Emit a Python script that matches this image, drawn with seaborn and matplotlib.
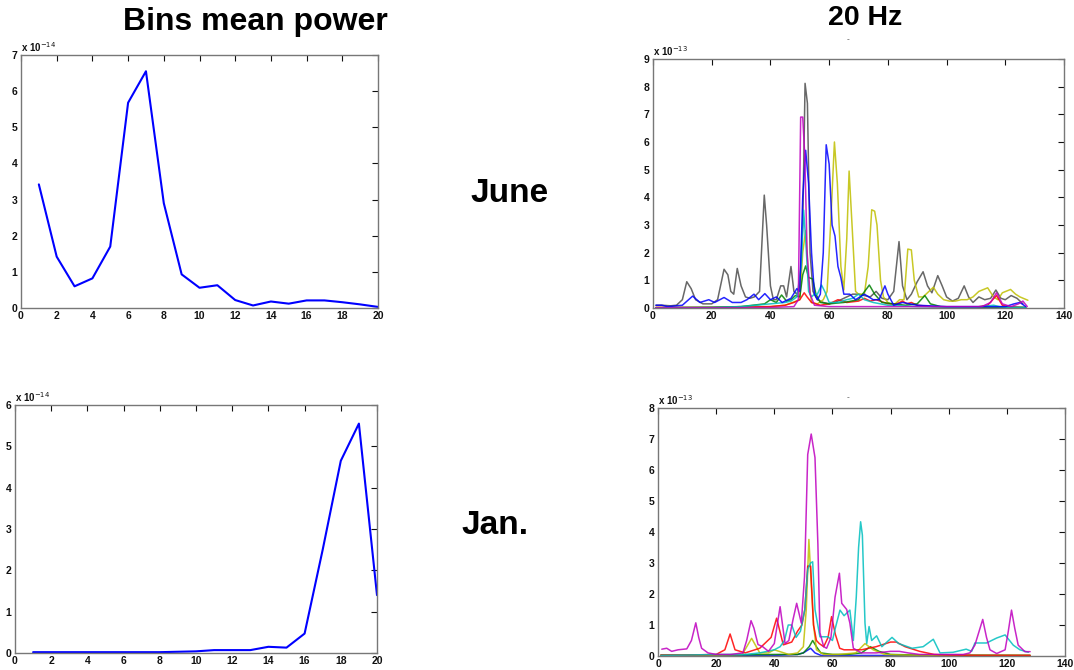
import numpy as np
import pandas as pd
import matplotlib
matplotlib.use("Agg")
import matplotlib.pyplot as plt
import seaborn as sns

# ---------------- data ----------------
# Left column: bin mean power (units of 1e-14)
bins = list(range(1, 21))
june_bins = [3.42, 1.42, 0.60, 0.82, 1.70, 5.68, 6.55, 2.90, 0.93, 0.56,
             0.63, 0.22, 0.07, 0.18, 0.12, 0.21, 0.21, 0.16, 0.10, 0.03]
jan_bins = [0.02, 0.02, 0.02, 0.02, 0.02, 0.02, 0.02, 0.02, 0.03, 0.04,
            0.07, 0.07, 0.07, 0.15, 0.13, 0.47, 2.50, 4.65, 5.55, 1.40]

# Right column: 20 Hz spectra (units of 1e-13), read point by point
june_k_x = [1, 3, 6, 8, 10, 11.5, 13, 14.5, 17, 20, 22, 23, 24.2, 25.5, 26.5, 27.5, 28.7, 30, 31.5, 33,
            34.5, 36.3, 37.9, 38.7, 40, 41, 42, 43.5, 44.5, 45.5, 47, 48, 49, 50, 51, 51.8, 52.6, 53.5,
            54.5, 56, 58, 60, 62, 64, 66, 68, 70, 72, 74, 76, 78, 80, 82, 83.8, 85, 86.5, 88, 90, 92,
            93.5, 95, 97, 98.5, 100, 102, 104, 106, 107.5, 109, 111, 113, 115, 116.8, 118.5, 120, 122,
            124, 126]
june_k_y = [0.1, 0.1, 0.08, 0.1, 0.3, 0.95, 0.7, 0.3, 0.15, 0.15, 0.3, 0.8, 1.4, 1.2, 0.6, 0.5, 1.43, 0.8,
            0.4, 0.35, 0.4, 0.6, 4.08, 3.0, 0.8, 0.3, 0.3, 0.8, 0.8, 0.4, 1.5, 0.6, 0.5, 0.8, 3.0, 8.12,
            7.4, 2.0, 0.6, 0.3, 0.2, 0.15, 0.2, 0.3, 0.4, 0.5, 0.5, 0.45, 0.4, 0.6, 0.35, 0.3, 0.6, 2.4,
            0.8, 0.3, 0.5, 0.95, 1.31, 0.8, 0.55, 1.17, 0.8, 0.4, 0.25, 0.35, 0.8, 0.4, 0.2, 0.4, 0.3,
            0.35, 0.65, 0.35, 0.3, 0.45, 0.35, 0.15]

june_y_x = [1, 10, 20, 30, 40, 45, 50, 51, 52, 53, 54, 56, 58, 59.3, 60.5, 61.8, 62.8, 64, 65, 66, 66.8,
            67.8, 69, 70, 72, 73.3, 74.5, 75.5, 76.3, 77.5, 78.5, 80, 82, 84, 85.5, 86.8, 88, 89, 90.5,
            92, 94, 95.5, 97, 99, 101, 103, 105, 107, 109, 111, 114, 116, 117.5, 119, 121.8, 123.5, 125,
            127.7]
june_y_y = [0.02, 0.02, 0.03, 0.05, 0.05, 0.1, 0.3, 2.0, 2.8, 1.0, 0.2, 0.15, 0.3, 0.6, 3.0, 6.0, 4.5,
            1.5, 0.65, 2.5, 4.95, 3.0, 0.6, 0.5, 0.5, 1.5, 3.55, 3.5, 3.0, 1.0, 0.4, 0.2, 0.1, 0.3, 0.3,
            2.13, 2.1, 1.0, 0.4, 0.4, 0.6, 0.75, 0.5, 0.3, 0.25, 0.25, 0.3, 0.3, 0.4, 0.6, 0.73, 0.4,
            0.3, 0.55, 0.67, 0.5, 0.4, 0.28]

june_b_x = [1, 3, 5, 8, 10, 13.5, 16, 19, 21, 24.2, 27, 30, 32, 34.4, 36, 38.1, 40, 42, 44, 47, 49, 50,
            51, 52, 53, 54, 55, 56, 57, 58, 59, 60, 61, 62, 63, 64, 65, 67, 69, 72, 75, 77, 79, 80, 82,
            85, 90, 100, 110, 120, 123, 125, 127]
june_b_y = [0.1, 0.1, 0.05, 0.08, 0.1, 0.43, 0.2, 0.3, 0.2, 0.38, 0.2, 0.2, 0.3, 0.5, 0.3, 0.52, 0.3,
            0.4, 0.2, 0.35, 0.7, 0.6, 4.0, 5.7, 4.5, 2.0, 0.5, 0.3, 0.5, 2.0, 5.9, 5.2, 3.0, 2.6, 1.5,
            1.1, 0.5, 0.5, 0.3, 0.5, 0.3, 0.3, 0.8, 0.5, 0.1, 0.2, 0.1, 0.05, 0.05, 0.05, 0.15, 0.2,
            0.05]

june_m_x = [1, 20, 40, 48, 49.5, 50.3, 51, 51.7, 52.5, 53.5, 55, 60, 80, 100, 112, 115, 117, 119, 122,
            124.5, 126, 127.5]
june_m_y = [0.01, 0.01, 0.02, 0.05, 0.3, 6.9, 6.9, 5.5, 2.0, 0.5, 0.1, 0.05, 0.05, 0.05, 0.05, 0.2,
            0.55, 0.15, 0.05, 0.15, 0.25, 0.05]

june_g_x = [1, 20, 30, 38, 40, 42, 43.8, 45.5, 47, 48.5, 50, 51, 52, 53, 54.4, 55.5, 57, 60, 65, 70,
            73.7, 75.5, 78, 82, 86, 90, 92.6, 94.5, 98, 105, 115, 127]
june_g_y = [0.01, 0.02, 0.05, 0.15, 0.3, 0.2, 0.47, 0.25, 0.3, 0.45, 0.4, 1.2, 1.52, 1.1, 1.05, 0.5,
            0.2, 0.15, 0.2, 0.3, 0.83, 0.5, 0.2, 0.15, 0.1, 0.15, 0.45, 0.15, 0.05, 0.03, 0.02, 0.02]

june_c_x = [1, 20, 30, 35, 40, 45, 47, 49, 50.5, 51.3, 52, 53, 54, 55, 56, 57.4, 58.5, 60, 63, 66, 68,
            70, 72, 75, 80, 90, 100, 110, 116, 118, 120, 127]
june_c_y = [0.01, 0.02, 0.05, 0.1, 0.15, 0.2, 0.25, 0.4, 1.5, 3.54, 2.5, 0.6, 0.4, 0.5, 0.5, 0.83, 0.6,
            0.2, 0.2, 0.3, 0.35, 0.5, 0.3, 0.2, 0.1, 0.05, 0.03, 0.03, 0.1, 0.05, 0.03, 0.02]

june_r_x = [1, 20, 30, 40, 45, 48, 50, 51.5, 52.5, 54, 57, 60, 63, 66, 70, 72, 74, 76, 80, 83, 85,
            86.5, 88, 90, 95, 100, 110, 114, 117, 119, 121, 127]
june_r_y = [0.02, 0.02, 0.03, 0.05, 0.1, 0.2, 0.3, 0.55, 0.4, 0.2, 0.1, 0.15, 0.3, 0.2, 0.25, 0.35,
            0.25, 0.3, 0.15, 0.15, 0.25, 0.15, 0.2, 0.1, 0.05, 0.03, 0.03, 0.1, 0.45, 0.1, 0.05, 0.02]

jan_m_x = [1.3, 3, 4.7, 6.9, 9.9, 11.5, 13, 14, 15, 17.2, 20, 25, 29.2, 30.5, 32, 33, 34.4, 36, 38, 40,
           42, 43.7, 45, 46.5, 47.7, 49.3, 50.4, 51.5, 52.7, 54, 55, 55.7, 57, 58, 59.5, 60.9, 62.4,
           63.2, 64.9, 66, 67.2, 70, 75, 80, 83, 86, 90, 95, 100, 105, 107.3, 109, 111.7, 113, 114.2,
           116.5, 119.4, 120.5, 121.6, 122.7, 123.9, 126.2, 128]
jan_m_y = [0.22, 0.25, 0.15, 0.2, 0.23, 0.5, 1.07, 0.6, 0.25, 0.1, 0.05, 0.05, 0.1, 0.5, 1.14, 0.9,
           0.37, 0.3, 0.15, 0.4, 1.59, 0.4, 0.5, 1.2, 1.7, 1.06, 2.56, 6.5, 7.16, 6.4, 3.6, 0.75, 0.3,
           0.25, 0.6, 1.9, 2.67, 1.7, 1.5, 1.06, 0.25, 0.1, 0.1, 0.15, 0.15, 0.1, 0.05, 0.05, 0.05,
           0.05, 0.1, 0.35, 1.18, 0.6, 0.2, 0.08, 0.2, 0.8, 1.48, 0.9, 0.35, 0.14, 0.14]

jan_c_x = [1, 10, 20, 30, 35, 40, 42, 43.5, 44.8, 46, 47.5, 49, 50.5, 51.5, 52.5, 53.2, 54, 55.7, 58.5,
           60, 61, 62.6, 64, 66, 67.2, 68.2, 69, 69.7, 70.3, 71.2, 71.8, 72.6, 73.5, 75.2, 77, 80.5,
           82.8, 87.4, 91.2, 94.7, 97, 101.5, 106, 107.9, 109, 113, 116.5, 119.4, 122.2, 124.5, 127.4]
jan_c_y = [0.02, 0.03, 0.05, 0.05, 0.1, 0.2, 0.3, 0.5, 1.0, 1.0, 0.6, 0.8, 1.5, 2.8, 3.0, 3.04, 1.5,
           0.62, 0.62, 0.5, 0.9, 1.48, 1.3, 1.48, 0.5, 1.9, 3.5, 4.33, 3.9, 1.06, 0.4, 0.95, 0.5, 0.65,
           0.3, 0.6, 0.4, 0.25, 0.3, 0.54, 0.1, 0.12, 0.22, 0.15, 0.42, 0.42, 0.58, 0.68, 0.35, 0.2,
           0.12]

jan_r_x = [1, 10, 20, 23, 24.8, 26.5, 30, 35, 38.9, 40.8, 43.1, 46, 48, 49.5, 50.5, 51.5, 52.5, 53.5,
           54.5, 55.5, 57, 58.5, 59.7, 61, 62.5, 64, 66, 70, 75, 80, 82, 85, 90, 95, 100, 110, 120, 128]
jan_r_y = [0.03, 0.03, 0.05, 0.2, 0.71, 0.2, 0.1, 0.25, 0.6, 1.22, 0.36, 0.45, 0.8, 1.0, 1.5, 2.9,
           2.9, 1.0, 0.5, 0.4, 0.3, 0.6, 1.27, 0.7, 0.25, 0.2, 0.2, 0.2, 0.3, 0.45, 0.45, 0.3, 0.15,
           0.05, 0.03, 0.02, 0.02, 0.02]

jan_y_x = [1, 20, 29, 32.2, 35, 38, 40, 45, 48, 50, 51, 51.9, 52.6, 53.5, 54.5, 57, 62, 68, 71.2, 74,
           78, 85, 100, 128]
jan_y_y = [0.02, 0.03, 0.05, 0.57, 0.1, 0.1, 0.2, 0.05, 0.1, 0.3, 1.5, 3.76, 2.5, 1.0, 0.2, 0.05,
           0.05, 0.1, 0.4, 0.2, 0.05, 0.03, 0.02, 0.02]

jan_g_x = [1, 20, 40, 48, 50, 52, 53.2, 54.5, 56, 60, 65, 70, 73, 76, 80, 90, 128]
jan_g_y = [0.03, 0.03, 0.05, 0.05, 0.1, 0.3, 0.5, 0.3, 0.1, 0.05, 0.05, 0.1, 0.3, 0.15, 0.05, 0.03,
           0.02]

jan_b_x = [1, 40, 48, 50, 52.5, 54, 56, 128]
jan_b_y = [0.01, 0.02, 0.05, 0.1, 0.25, 0.1, 0.02, 0.01]

# MATLAB-style line colours
C_B = (0.0, 0.0, 1.0)
C_G = (0.0, 0.5, 0.0)
C_R = (1.0, 0.0, 0.0)
C_C = (0.0, 0.75, 0.75)
C_M = (0.75, 0.0, 0.75)
C_Y = (0.75, 0.75, 0.0)
C_K = (0.3, 0.3, 0.3)

june_series = [(june_k_x, june_k_y, C_K), (june_y_x, june_y_y, C_Y), (june_r_x, june_r_y, C_R),
               (june_g_x, june_g_y, C_G), (june_c_x, june_c_y, C_C), (june_b_x, june_b_y, C_B),
               (june_m_x, june_m_y, C_M)]
jan_series = [(jan_b_x, jan_b_y, C_B), (jan_g_x, jan_g_y, C_G), (jan_y_x, jan_y_y, C_Y),
              (jan_r_x, jan_r_y, C_R), (jan_c_x, jan_c_y, C_C), (jan_m_x, jan_m_y, C_M)]

# ---------------- figure ----------------
sns.set_style("white")
plt.rcParams['font.family'] = ['Liberation Sans', 'DejaVu Sans']

W, H = 1074, 670
fig = plt.figure(figsize=(W / 100, H / 100), dpi=100)
fig.patch.set_facecolor("white")


def px_axes(l, t, r, b):
    return fig.add_axes([l / W, 1 - b / H, (r - l) / W, (b - t) / H])


def style(ax, xlim, xticks, ylim, yticks, expo):
    ax.set_xlim(*xlim)
    ax.set_ylim(*ylim)
    ax.set_xticks(xticks)
    ax.set_yticks(yticks)
    ax.tick_params(direction="in", length=4, width=0.8, top=True, right=True,
                   labelsize=7.5, pad=2.5, colors="#111111")
    for lab in ax.get_xticklabels() + ax.get_yticklabels():
        lab.set_fontweight("bold")
    for s in ax.spines.values():
        s.set_color("#777777")
        s.set_linewidth(1.0)
    ax.set_xlabel("")
    ax.set_ylabel("")
    ax.text(0.0, 1.005, r"x 10$^{%d}$" % expo, transform=ax.transAxes, fontsize=7,
            fontweight="bold", ha="left", va="bottom", color="#111111")


ax_tl = px_axes(21, 55, 378, 308)
ax_tr = px_axes(653, 59, 1064, 308)
ax_bl = px_axes(15, 405, 377, 653)
ax_br = px_axes(658, 408, 1065, 656)

sns.lineplot(x=bins, y=june_bins, ax=ax_tl, color=C_B, linewidth=1.5)
sns.lineplot(x=bins, y=jan_bins, ax=ax_bl, color=C_B, linewidth=1.5)

for xs, ys, c in june_series:
    sns.lineplot(x=xs, y=ys, ax=ax_tr, color=c, linewidth=1.1, alpha=0.85,
                 estimator=None, sort=False)
for xs, ys, c in jan_series:
    sns.lineplot(x=xs, y=ys, ax=ax_br, color=c, linewidth=1.1, alpha=0.85,
                 estimator=None, sort=False)

style(ax_tl, (0, 20), range(0, 21, 2), (0, 7), range(0, 8), -14)
style(ax_bl, (0, 20), range(0, 21, 2), (0, 6), range(0, 7), -14)
style(ax_tr, (0, 140), range(0, 141, 20), (0, 9), range(0, 10), -13)
style(ax_br, (0, 140), range(0, 141, 20), (0, 8), range(0, 9), -13)

# headings
fig.text(255 / W, 1 - 22 / H, "Bins mean power", fontsize=23, fontweight="bold",
         ha="center", va="center", color="black")
fig.text(865 / W, 1 - 18 / H, "20 Hz", fontsize=20.5, fontweight="bold",
         ha="center", va="center", color="black")
fig.text(510 / W, 1 - 194 / H, "June", fontsize=24, fontweight="bold",
         ha="center", va="center", color="black")
fig.text(495 / W, 1 - 525 / H, "Jan.", fontsize=24, fontweight="bold",
         ha="center", va="center", color="black")
fig.text(848 / W, 1 - 40 / H, "-", fontsize=6, ha="center", va="center", color="#444444")
fig.text(848 / W, 1 - 398 / H, "-", fontsize=6, ha="center", va="center", color="#444444")

fig.savefig("out.png", dpi=100, facecolor="white")
